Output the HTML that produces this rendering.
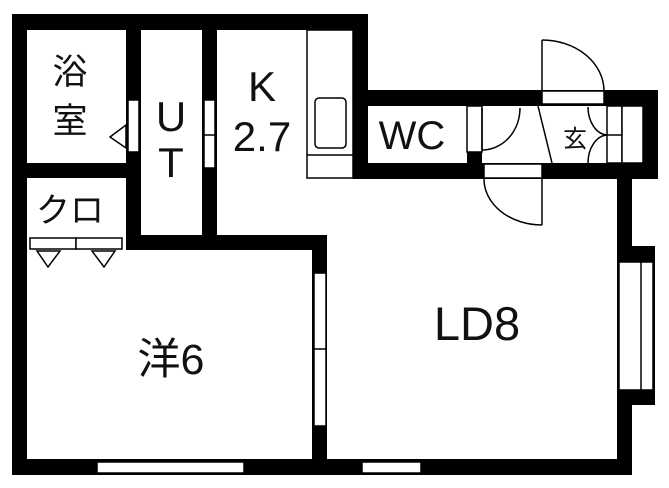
<!DOCTYPE html>
<html><head><meta charset="utf-8"><style>
html,body{margin:0;padding:0;background:#fff;}
svg{display:block}
text{font-family:"Liberation Sans","Noto Sans CJK JP",sans-serif;fill:#111;}
</style></head><body>
<svg width="669" height="488" viewBox="0 0 669 488" xmlns="http://www.w3.org/2000/svg">
<g fill="#000">
<rect x="12" y="14" width="356" height="16"/>
<rect x="12" y="14" width="15" height="461"/>
<rect x="12" y="459" width="620" height="16"/>
<rect x="353" y="14" width="15" height="165"/>
<rect x="126" y="14" width="15" height="236"/>
<rect x="202" y="14" width="15" height="236"/>
<rect x="12" y="163" width="129" height="15"/>
<rect x="126" y="235" width="201" height="15"/>
<rect x="312" y="235" width="15" height="240"/>
<rect x="353" y="90" width="305" height="16"/>
<rect x="353" y="163" width="305" height="16"/>
<rect x="643" y="90" width="15" height="89"/>
<rect x="617" y="163" width="15" height="312"/>
<rect x="617" y="246" width="38" height="159"/>
<rect x="467" y="150" width="15" height="14"/>
</g>
<g fill="#fff" stroke="#000" stroke-width="1.5">
<rect x="307" y="30" width="46" height="148"/>
<line x1="307" y1="155" x2="353" y2="155"/>
<rect x="315" y="98" width="31" height="50" rx="4"/>
<rect x="128" y="100" width="11" height="52"/>
<rect x="204" y="100" width="11" height="68"/>
<line x1="204" y1="135" x2="215" y2="135"/>
<rect x="30" y="238" width="46" height="11"/>
<rect x="76" y="238" width="46" height="11"/>
<rect x="314" y="273" width="12" height="153"/>
<line x1="314" y1="349" x2="326" y2="349"/>
<rect x="97" y="462" width="147" height="11"/>
<rect x="362" y="462" width="59" height="11"/>
<rect x="619" y="262" width="34" height="128"/>
<line x1="641" y1="262" x2="641" y2="390"/>
<rect x="467" y="106" width="15" height="46"/>
<rect x="542" y="91" width="62" height="13"/>
<rect x="484" y="164" width="58" height="14"/>
<rect x="607" y="106" width="15" height="57"/>
<line x1="607" y1="135" x2="622" y2="135"/>
<rect x="622" y="106" width="21" height="57"/>
</g>
<g fill="none" stroke="#000" stroke-width="1.5">
<path d="M110,137 L126,125 L126,148 Z" fill="#fff"/>
<path d="M37,251 L60,251 L48,267 Z"/>
<path d="M92,251 L115,251 L104,267 Z"/>
<line x1="482" y1="108" x2="482" y2="150"/>
<path d="M520,108 A38,42 0 0 1 482,150"/>
<line x1="542" y1="40" x2="542" y2="91"/>
<path d="M542,40 A62,51 0 0 1 604,91"/>
<line x1="542" y1="179" x2="542" y2="225"/>
<path d="M484,179 A58,46 0 0 0 542,225"/>
<line x1="538" y1="106" x2="552" y2="163"/>
<path d="M588,107 A20,28 0 0 0 607,135"/>
<path d="M588,163 A20,28 0 0 1 607,135"/>
</g>
<text x="70" y="84" font-size="35" text-anchor="middle">浴</text>
<text x="70" y="133" font-size="35" text-anchor="middle">室</text>
<text x="171" y="131" font-size="42" text-anchor="middle">U</text>
<text x="171" y="177" font-size="42" text-anchor="middle">T</text>
<text x="262" y="101" font-size="42" text-anchor="middle">K</text>
<text x="262" y="151" font-size="42" text-anchor="middle">2.7</text>
<text x="412" y="149" font-size="40" text-anchor="middle">WC</text>
<text x="575" y="147" font-size="24" text-anchor="middle">玄</text>
<text x="70" y="222" font-size="34" text-anchor="middle">クロ</text>
<text x="171" y="374" font-size="43" text-anchor="middle">洋6</text>
<text x="477" y="340" font-size="47" text-anchor="middle">LD8</text>
</svg>
</body></html>
